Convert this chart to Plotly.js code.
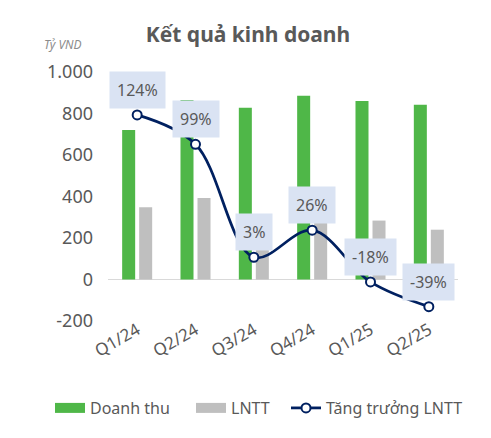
<!DOCTYPE html>
<html>
    <head>
        <meta charset="utf-8">
        <script src="https://cdn.plot.ly/plotly-3.0.1.min.js"></script>
        <style>
            body { margin: 0; background: #fff; }
        </style>
    </head>
    <body>
        <div id="plot" style="width:491px;height:438px;"></div>
        <script type="text/javascript">
            // quarterly figures, ty VND
            var quarters = ['Q1/24', 'Q2/24', 'Q3/24', 'Q4/24', 'Q1/25', 'Q2/25'];
            var revenue = [721, 865, 828, 885, 860, 842];
            var profit = [348, 393, 157, 283, 284, 240];
            var growth = [124, 99, 3, 26, -18, -39];
            var yTickVals = [-200, 0, 200, 400, 600, 800, 1000];
            var yTickText = ['-200', '0', '200', '400', '600', '800', '1.000'];

            var textColor = '#595959';
            var green = '#4fb748', grey = '#bfbfbf', navy = '#002060';
            var font = 'Noto Sans, Open Sans, sans-serif';

            var traces = [
                {x: quarters, y: revenue, type: 'bar', name: 'Doanh thu',
                 marker: {color: green}, hoverinfo: 'none', showlegend: false},
                {x: quarters, y: profit, type: 'bar', name: 'LNTT',
                 marker: {color: grey}, hoverinfo: 'none', showlegend: false},
                {x: quarters, y: growth, yaxis: 'y2', type: 'scatter', mode: 'lines+markers',
                 name: 'Tăng trưởng LNTT', legend: 'legend3',
                 line: {color: navy, width: 2.75, shape: 'spline', smoothing: 1},
                 marker: {size: 9, color: '#ffffff', line: {color: navy, width: 2}},
                 hoverinfo: 'none'},
                // legend-only entries so the bar keys come out as wide swatches
                {x: [null], y: [null], type: 'scatter', mode: 'lines', name: 'Doanh thu',
                 legend: 'legend', line: {color: green, width: 10}, hoverinfo: 'none'},
                {x: [null], y: [null], type: 'scatter', mode: 'lines', name: 'LNTT',
                 legend: 'legend2', line: {color: grey, width: 10}, hoverinfo: 'none'}
            ];

            var labels = growth.map(function(g, i) {
                return {
                    x: quarters[i], y: g, xref: 'x', yref: 'y2',
                    text: g + '%', showarrow: false, yshift: 25,
                    bgcolor: '#dae3f3', borderpad: 7,
                    font: {family: font, size: 16, color: textColor}
                };
            });
            labels.push({
                xref: 'paper', yref: 'paper', x: -0.0686, y: 1.112,
                xanchor: 'right', yanchor: 'middle',
                text: '<i>Tỷ VND</i>', showarrow: false,
                font: {family: font, size: 12, color: '#8c8c8c'}
            });

            function legendAt(x) {
                return {orientation: 'h', xref: 'container', x: x / 491, xanchor: 'left',
                        yref: 'container', y: 1 - 408 / 438, yanchor: 'middle',
                        font: {family: font, size: 16, color: textColor},
                        bgcolor: 'rgba(0,0,0,0)'};
            }

            var layout = {
                width: 491, height: 438,
                margin: {l: 108, r: 33, t: 72, b: 117},
                paper_bgcolor: '#ffffff', plot_bgcolor: '#ffffff',
                font: {family: font, color: textColor},
                title: {text: '<b>Kết quả kinh doanh</b>', xref: 'paper', x: 0.4, xanchor: 'center',
                        yref: 'container', y: 0.92, yanchor: 'middle',
                        font: {family: font, size: 21, color: textColor}},
                barmode: 'group', bargap: 0.417, bargroupgap: 0.235,
                xaxis: {tickangle: -30, tickfont: {size: 17, color: textColor},
                        showgrid: false, showline: false, ticks: '', automargin: false,
                        ticklabelstandoff: -5},
                yaxis: {range: [-200, 1000], tickvals: yTickVals, ticktext: yTickText,
                        tickfont: {size: 18, color: textColor}, showgrid: false,
                        zeroline: true, zerolinecolor: '#d9d9d9', zerolinewidth: 1.5,
                        ticks: '', ticklabelstandoff: 14, automargin: false},
                yaxis2: {range: [-51.2, 160.5], overlaying: 'y', side: 'right',
                         visible: false, showgrid: false, zeroline: false},
                showlegend: true,
                legend: legendAt(50),
                legend2: legendAt(191),
                legend3: legendAt(286),
                annotations: labels
            };

            Plotly.newPlot('plot', traces, layout, {displayModeBar: false, staticPlot: true});
        </script>
    </body>
</html>
